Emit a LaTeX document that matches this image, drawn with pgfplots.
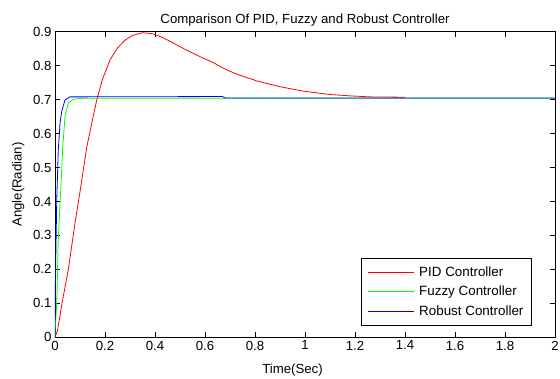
\documentclass[border=0pt]{standalone}
\usepackage{fontspec}
\setmainfont{Liberation Sans}
\usepackage{pgfplots}
\pgfplotsset{compat=1.18}
\begin{document}
\begin{tikzpicture}[font=\fontsize{13.2}{15}\selectfont]
\begin{axis}[
  name=ax,
  scale only axis,
  width=500pt, height=305.6pt,
  xmin=0, xmax=2, ymin=0, ymax=0.9,
  xtick distance=0.2, ytick distance=0.1,
  tick align=inside, tick pos=both,
  major tick length=5pt,
  tick style={black, line width=0.6pt},
  axis line style={black, line width=0.9pt},
  /pgf/number format/assume math mode=true,
  ticklabel style={font=\fontsize{13.2}{15}\selectfont},
  title={Comparison Of PID, Fuzzy and Robust Controller},
  title style={yshift=-4pt},
  xlabel={Time(Sec)},
  xlabel style={at={(axis description cs:0.475,0)}, anchor=north, yshift=-23pt},
  ylabel={Angle(Radian)},
  ylabel style={yshift=2pt},
  legend cell align=left,
  legend style={at={(axis description cs:0.612,0.037)}, anchor=south west,
    draw=black, line width=0.8pt, font=\fontsize{13.4}{15}\selectfont,
    row sep=4pt, inner xsep=6pt, inner ysep=7pt},
  legend image code/.code={\draw[#1] (0pt,0pt) -- (46pt,0pt); \path (49pt,0pt);},
]
\addplot[red, line width=0.8pt] coordinates {
(0,0) (0.01,0.02) (0.028,0.1) (0.053,0.198) (0.08,0.336) (0.103,0.443)
(0.127,0.56) (0.147,0.63) (0.167,0.699) (0.19,0.76) (0.22,0.817)
(0.25,0.852) (0.28,0.875) (0.31,0.889) (0.35,0.897) (0.39,0.894)
(0.43,0.883) (0.47,0.868) (0.52,0.848) (0.593,0.822) (0.633,0.809)
(0.68,0.79) (0.727,0.775) (0.807,0.755) (0.9,0.738) (0.993,0.725)
(1.1,0.715) (1.18,0.711) (1.26,0.708) (1.4,0.707)
};
\addlegendentry{PID Controller}
\addplot[green, line width=0.8pt] coordinates {
(0,0) (0.002,0.04) (0.007,0.1) (0.013,0.287) (0.023,0.434) (0.031,0.561)
(0.04,0.65) (0.053,0.689) (0.073,0.701) (0.11,0.704) (2,0.704)
};
\addlegendentry{Fuzzy Controller}
\addplot[blue, line width=0.8pt] coordinates {
(0,0) (0.001,0.14) (0.007,0.404) (0.013,0.55) (0.02,0.63) (0.027,0.665)
(0.04,0.699) (0.06,0.708) (0.67,0.709) (0.68,0.705) (2,0.705)
};
\addlegendentry{Robust Controller\hspace{14pt}}
\end{axis}
\pgfresetboundingbox
\path[use as bounding box] (ax.south west) ++(-55pt,-41.7pt) rectangle ++(560pt,379pt);
\end{tikzpicture}
\end{document}
